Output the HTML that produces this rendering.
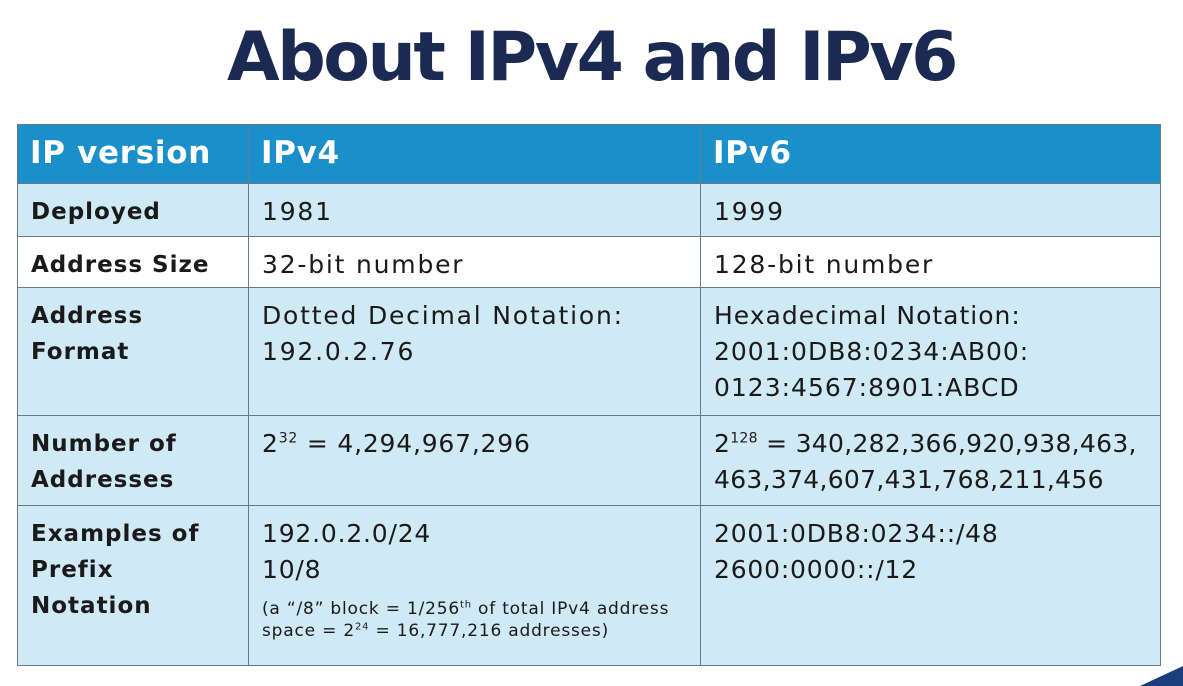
<!DOCTYPE html>
<html><head><meta charset="utf-8"><style>
body{margin:0;width:1183px;height:686px;background:#fff;position:relative;overflow:hidden;font-family:"DejaVu Sans","Liberation Sans",sans-serif}
h1{position:absolute;left:0;top:18px;width:1183px;text-align:center;margin:0;font-size:68px;font-weight:bold;color:#1b2a52;letter-spacing:-2.5px}
.c{position:absolute;box-sizing:border-box;border:1px solid #6b7a86;color:#1a1a1a}
.h{background:#1a8fc9;color:#fff;font-weight:bold;font-size:31px;padding:10px 0 0 12px;letter-spacing:0.7px}
.l{font-weight:bold;font-size:23px;padding:10px 0 0 13px;line-height:36px;letter-spacing:1px}
.v{font-size:25px;padding:10px 0 0 13px;line-height:36px;letter-spacing:1.8px}
.b{background:#cfe9f5}.w{background:#fff}
sup{font-size:14px;line-height:0}
.n{font-size:17px;line-height:22px;display:block;margin-top:10px;letter-spacing:0.8px}
.n sup{font-size:10px}
</style></head><body>
<h1>About IPv4 and IPv6</h1>
<div>
<div class="c h" style="left:17px;top:124px;width:232px;height:60px">IP version</div>
<div class="c h" style="left:248px;top:124px;width:453px;height:60px">IPv4</div>
<div class="c h" style="left:700px;top:124px;width:461px;height:60px">IPv6</div>

<div class="c l b" style="left:17px;top:183px;width:232px;height:54px">Deployed</div>
<div class="c v b" style="left:248px;top:183px;width:453px;height:54px">1981</div>
<div class="c v b" style="left:700px;top:183px;width:461px;height:54px">1999</div>

<div class="c l w" style="left:17px;top:236px;width:232px;height:52px">Address Size</div>
<div class="c v w" style="left:248px;top:236px;width:453px;height:52px">32-bit number</div>
<div class="c v w" style="left:700px;top:236px;width:461px;height:52px">128-bit number</div>

<div class="c l b" style="left:17px;top:287px;width:232px;height:129px">Address<br>Format</div>
<div class="c v b" style="left:248px;top:287px;width:453px;height:129px">Dotted Decimal Notation:<br>192.0.2.76</div>
<div class="c v b" style="left:700px;top:287px;width:461px;height:129px;letter-spacing:1px">Hexadecimal Notation:<br>2001:0DB8:0234:AB00:<br>0123:4567:8901:ABCD</div>

<div class="c l b" style="left:17px;top:415px;width:232px;height:91px">Number of<br>Addresses</div>
<div class="c v b" style="left:248px;top:415px;width:453px;height:91px;letter-spacing:0.8px">2<sup>32</sup> = 4,294,967,296</div>
<div class="c v b" style="left:700px;top:415px;width:461px;height:91px;letter-spacing:0.3px">2<sup>128</sup> = 340,282,366,920,938,463,<br>463,374,607,431,768,211,456</div>

<div class="c l b" style="left:17px;top:505px;width:232px;height:161px">Examples of<br>Prefix<br>Notation</div>
<div class="c v b" style="left:248px;top:505px;width:453px;height:161px;letter-spacing:0.8px">192.0.2.0/24<br>10/8<span class="n">(a “/8” block = 1/256<sup>th</sup> of total IPv4 address<br>space = 2<sup>24</sup> = 16,777,216 addresses)</span></div>
<div class="c v b" style="left:700px;top:505px;width:461px;height:161px;letter-spacing:0.8px">2001:0DB8:0234::/48<br>2600:0000::/12</div>
</div>
<svg style="position:absolute;left:1140px;top:660px" width="43" height="26"><polygon points="0,26 43,6 43,26" fill="#1b3f7a"/></svg>
</body></html>
